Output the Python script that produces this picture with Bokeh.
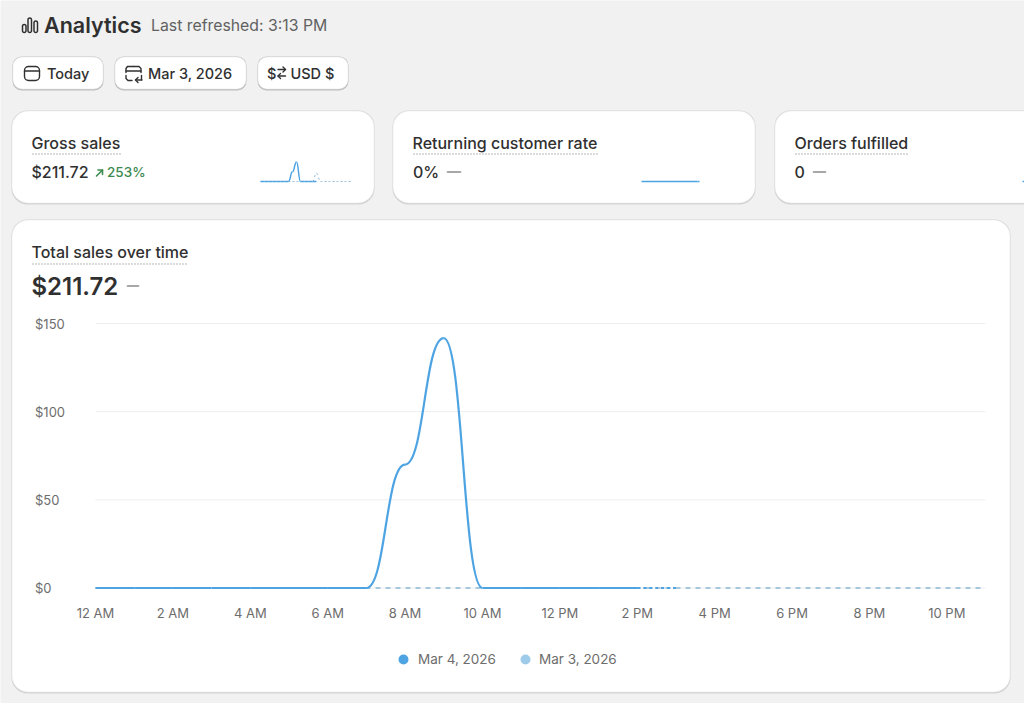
from bokeh.core.properties import value
from bokeh.embed import file_html
from bokeh.models import ColumnDataSource, FixedTicker, Label, LinearAxis, Range1d
from bokeh.plotting import figure
from bokeh.resources import INLINE

# hourly values
hours = list(range(24))
mar4_sales = [0, 0, 0, 0, 0, 0, 0, 0, 70, 141.72, 0, 0, 0, 0, 0, 0]
mar3_sales = [0] * 24
spark_mar3_sales = [0, 0, 0, 0, 0, 0, 0, 0, 0, 0, 0, 0, 0, 0, 60, 0, 0, 0, 0, 0, 0, 0, 0, 0]
spark_zero = [0] * 16

x_tick_hours = [0, 2, 4, 6, 8, 10, 12, 14, 16, 18, 20, 22]
x_tick_labels = ["12 AM", "2 AM", "4 AM", "6 AM", "8 AM", "10 AM", "12 PM", "2 PM", "4 PM", "6 PM", "8 PM", "10 PM"]
y_ticks = [0, 50, 100, 150]
y_tick_labels = ["$0", "$50", "$100", "$150"]
legend_names = ["Mar 4, 2026", "Mar 3, 2026"]
now_hour = 14

BG = "#f1f1f1"
BLUE = "#4ea4e3"
LIGHT_BLUE = "#9fcbea"
DASH_BLUE = "#8cb8d6"
INK = "#303030"
GREY = "#616161"
AXIS_GREY = "#6d6d6d"
SOFT = "#8a8a8a"
MEDIUM = "Inter Medium"
SEMI = "Inter SemiBold"

# the frame covers the window, so coordinates below are window pixels
LEFT, RIGHT, TOP, BOTTOM = 0, 1024, 0, 703

p = figure(width=RIGHT - LEFT, height=BOTTOM - TOP,
           x_range=Range1d(LEFT, RIGHT), y_range=Range1d(BOTTOM, TOP),
           x_axis_type=None, y_axis_type=None,
           toolbar_location=None, output_backend="svg", min_border=0)
p.outline_line_color = None
p.background_fill_color = BG
p.border_fill_color = BG


def add_ranges(name_x, name_y, x0_px, x1_px, x0_val, x1_val, y0_px, y1_px, y0_val, y1_val):
    # extra ranges that line up with the pixel frame, so marks go through their own scales
    kx = (x1_val - x0_val) / (x1_px - x0_px)
    ky = (y1_val - y0_val) / (y1_px - y0_px)
    p.extra_x_ranges[name_x] = Range1d(x0_val + (LEFT - x0_px) * kx, x0_val + (RIGHT - x0_px) * kx)
    p.extra_y_ranges[name_y] = Range1d(y0_val + (BOTTOM - y0_px) * ky, y0_val + (TOP - y0_px) * ky)


def bump_source(xs, ys):
    # smooth step between hourly values, flat at every value
    return ColumnDataSource(dict(
        x0=xs[:-1], y0=ys[:-1], x1=xs[1:], y1=ys[1:],
        cx0=[(a + b) / 2 for a, b in zip(xs[:-1], xs[1:])], cy0=ys[:-1],
        cx1=[(a + b) / 2 for a, b in zip(xs[:-1], xs[1:])], cy1=ys[1:],
    ))


def draw_curve(xs, ys, x_name, y_name, dash=None, **kw):
    r = p.bezier(x0="x0", y0="y0", x1="x1", y1="y1", cx0="cx0", cy0="cy0", cx1="cx1", cy1="cy1",
                 source=bump_source(xs, ys), x_range_name=x_name, y_range_name=y_name, **kw)
    if dash:
        r.glyph.line_dash = dash


def text(x, y, s, size, color=INK, font="Inter"):
    # y is the middle of the line of text
    p.add_layout(Label(x=x, y=y, text=s, text_font=font, text_font_size=f"{size}px", text_color=color,
                       text_align="left", text_baseline="middle"))


def box(x0, x1, y0, y1, radius, shadow="#d3d3d3", edge="#e6e6e6", drop=1.5):
    x0, x1, y0, y1 = x0 - 0.5, x1 - 0.5, y0 - 0.5, y1 - 0.5
    p.quad(left=x0 - 0.5, right=x1 + 0.5, top=y0 - 0.5, bottom=y1 + drop, fill_color=shadow,
           line_color=None, border_radius=radius)
    p.quad(left=x0, right=x1, top=y0, bottom=y1, fill_color="white", line_color=edge, line_width=0.5,
           border_radius=radius)


def stroke(xs, ys, color=INK, width=1.4, **kw):
    p.line(xs, ys, line_color=color, line_width=width, line_cap="round", line_join="round", **kw)


def dotted(x0, x1, y):
    p.line([x0, x1], [y, y], line_color="#a0a0a0", line_width=1.5, line_dash=[1, 2])


# header
for x0, x1, y0 in [(22, 25.5, 24), (27.5, 31, 17.5), (33.5, 37, 20.5)]:
    p.quad(left=x0, right=x1, top=y0, bottom=32, fill_color=None, line_color=INK, line_width=1.5,
           border_radius=2)
text(43.5, 24, "Analytics", 21.5, font=SEMI)
text(150.5, 24.5, "Last refreshed: 3:13 PM", 15.8, GREY)

# filter buttons
box(13, 103, 57, 89, 9, shadow="#bdbdbd")
box(115, 246, 57, 89, 9, shadow="#bdbdbd")
box(258, 348, 57, 89, 9, shadow="#bdbdbd")
p.quad(left=24, right=39, top=66, bottom=80, fill_color=None, line_color=INK, line_width=1.4, border_radius=4)
stroke([24, 39], [70.5, 70.5])
stroke([125.5, 125.5, 127, 133], [72, 68, 66, 66])
stroke([133, 138.5, 140.5, 140.5], [66, 66, 68, 72])
stroke([125.5, 140.5], [70.5, 70.5])
stroke([125.5, 125.5, 127.5, 131.5], [75, 78, 80, 80])
stroke([135, 141.5], [79.5, 79.5])
stroke([137.5, 135, 137.5], [77, 79.5, 82])
stroke([141, 141], [75, 79])
text(46.5, 72.5, "Today", 14.5, font=MEDIUM)
text(147.5, 72.5, "Mar 3, 2026", 14.5, font=MEDIUM)
text(266.5, 72.5, "$", 14.5, font=MEDIUM)
stroke([277.5, 285], [69, 69])
stroke([282.5, 285, 282.5], [66.5, 69, 71.5])
stroke([277.5, 285], [75.5, 75.5])
stroke([280, 277.5, 280], [73, 75.5, 78])
text(290, 72.5, "USD $", 14.5, font=MEDIUM)

# cards
box(12, 374, 111, 203, 16)
box(393, 755, 111, 203, 16)
box(775, 1040, 111, 203, 16)
box(12, 1010, 220, 692, 16)

text(31, 142, "Gross sales", 16, font=MEDIUM)
dotted(32, 120, 153.5)
text(31, 171, "$211.72", 16, font=MEDIUM)
stroke([96, 102], [175.5, 169.5], "#3b8a4f", 1.6)
stroke([97.5, 102, 102], [169.5, 169.5, 174], "#3b8a4f", 1.6)
text(106.5, 171.5, "253%", 13.5, "#3b8a4f", font=MEDIUM)

text(412, 142, "Returning customer rate", 16, font=MEDIUM)
dotted(413, 597, 153.5)
text(412.5, 171, "0%", 16, font=MEDIUM)
stroke([447, 460], [171.5, 171.5], SOFT, 1.6)

text(794, 142, "Orders fulfilled", 16, font=MEDIUM)
dotted(795, 908, 153.5)
text(794, 171, "0", 16, font=MEDIUM)
stroke([813, 825], [171.5, 171.5], SOFT, 1.6)

text(31, 251, "Total sales over time", 16, font=MEDIUM)
dotted(32, 188, 263.5)
text(31, 285.5, "$211.72", 24, font=SEMI)
stroke([127, 138], [285.5, 285.5], SOFT, 1.6)

# sparklines, one x range per card
for name, x0 in [("spark1", 260), ("spark2", 641), ("spark3", 1022)]:
    add_ranges(name, "spark_y", x0, x0 + 92, 0, 23, 181, 161.5, 0, 141.72)

draw_curve(hours, spark_mar3_sales, "spark1", "spark_y", line_color=DASH_BLUE, line_width=1, dash=[2, 3])
draw_curve(hours[:now_hour + 1], mar4_sales[:now_hour + 1], "spark1", "spark_y", line_color=BLUE, line_width=1.5)
for name in ["spark2", "spark3"]:
    p.line(hours[:now_hour + 1], spark_zero[:now_hour + 1], x_range_name=name, y_range_name="spark_y",
           line_color=BLUE, line_width=1.5)
    p.line(hours[now_hour:now_hour + 2], spark_zero[now_hour:now_hour + 2], x_range_name=name,
           y_range_name="spark_y", line_color=BLUE, line_width=1.5, line_dash=[2, 2])

# main chart
add_ranges("hour", "usd", 95, 985, 0, 23, 587.5, 323, 0, 150)

p.segment(x0=[0] * len(y_ticks), x1=[23] * len(y_ticks), y0=y_ticks, y1=y_ticks,
          x_range_name="hour", y_range_name="usd", line_color="#eeeeee", line_width=1)

x_axis = LinearAxis(x_range_name="hour", fixed_location=595,
                    ticker=FixedTicker(ticks=x_tick_hours),
                    major_label_overrides=dict(zip(x_tick_hours, x_tick_labels)))
x_axis.axis_line_color = None
x_axis.major_tick_line_color = None
x_axis.minor_tick_line_color = None
x_axis.major_label_standoff = 3
x_axis.major_label_text_font = "Inter"
x_axis.major_label_text_font_size = "13px"
x_axis.major_label_text_color = AXIS_GREY
p.add_layout(x_axis, "below")

p.text(x=[34.5] * len(y_ticks), y=y_ticks, text=y_tick_labels, y_range_name="usd",
       text_font=value("Inter"), text_font_size=value("13px"), text_color=AXIS_GREY,
       text_align="left", text_baseline="middle")

p.line(hours, mar3_sales, x_range_name="hour", y_range_name="usd",
       line_color=DASH_BLUE, line_width=1.5, line_dash=[5, 5])
draw_curve(hours[:now_hour + 1], mar4_sales[:now_hour + 1], "hour", "usd", line_color=BLUE, line_width=2.2)
draw_curve(hours[now_hour:now_hour + 2], mar4_sales[now_hour:now_hour + 2], "hour", "usd",
           line_color=BLUE, line_width=2.2, dash=[3, 3])

# legend
p.scatter(x=[403, 525], y=[659, 659], size=10, marker="circle", fill_color=[BLUE, LIGHT_BLUE], line_color=None)
text(417.5, 658.5, legend_names[0], 13.5, AXIS_GREY)
text(538.5, 658.5, legend_names[1], 13.5, AXIS_GREY)

open("out.html", "w").write(file_html(p, INLINE))
